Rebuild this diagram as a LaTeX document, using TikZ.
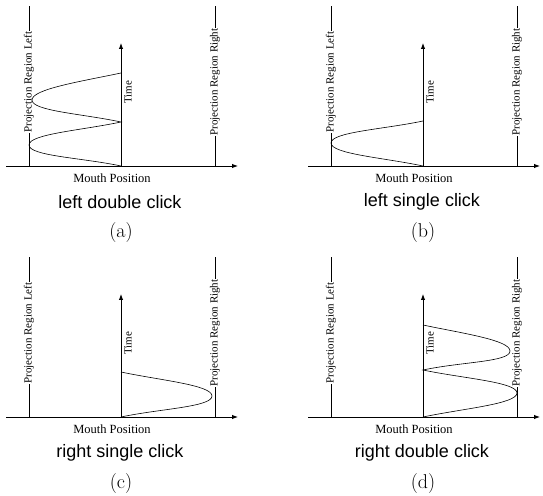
\documentclass[tikz,border=0pt]{standalone}
\usepackage{fontspec}
\usetikzlibrary{arrows.meta}
\newfontfamily\lblfont{Liberation Serif}
\newfontfamily\capfont{Liberation Sans}

\begin{document}
\begin{tikzpicture}[x=1pt, y=1pt, line width=0.9pt,
  axis/.style={-{Latex[length=6pt,width=4.5pt]}},
  wave/.style={line width=0.6pt},
  rlabel/.style={rotate=90, fill=white, inner sep=1pt,
    font=\lblfont\fontsize{11}{11}\selectfont},
  tlabel/.style={rotate=90, anchor=north, inner sep=1pt,
    font=\lblfont\fontsize{11}{11}\selectfont},
  mlabel/.style={inner sep=0pt, font=\lblfont\fontsize{12.5}{12.5}\selectfont},
  caption/.style={inner sep=0pt, font=\capfont\fontsize{18}{18}\selectfont},
  tag/.style={inner sep=0pt, font=\fontsize{20}{20}\selectfont}]

\useasboundingbox (0,0) rectangle (543,495);

% the four frames
\foreach \p/\ox/\oy/\cap in {a/121/329/left double click,
    b/423/329/left single click, c/121/78/right single click,
    d/423/78/right double click}{
  \begin{scope}[shift={(\ox,\oy)}]
    \coordinate (\p-o) at (0,0);
    \coordinate (\p-xs) at (-115,0);
    \coordinate (\p-xe) at (117,0);
    \coordinate (\p-te) at (0,123);
    \coordinate (\p-lb) at (-92,0);
    \coordinate (\p-lt) at (-92,160);
    \coordinate (\p-rb) at (94,0);
    \coordinate (\p-rt) at (94,160);

    \draw[axis] (\p-xs) -- (\p-xe);
    \draw[axis] (\p-o) -- (\p-te);
    \draw (\p-lb) -- (\p-lt);
    \draw (\p-rb) -- (\p-rt);

    \node[rlabel] (\p-left) at (-92,84) {Projection Region Left};
    \node[rlabel] (\p-right) at (94,84) {Projection Region Right};
    \node[tlabel] (\p-time) at (2,74) {Time};
    \node[mlabel] (\p-mouth) at (-9,-12) {Mouth Position};
    \node[caption] (\p-cap) at (-1,-36) {\cap};
    \node[tag] (\p-tag) at (0,-67) {(\p)};
  \end{scope}
}

% (a) two lobes to the left
\begin{scope}[shift={(121,329)}]
  \coordinate (a-t1) at (-92,21);
  \coordinate (a-m) at (0,44);
  \coordinate (a-t2) at (-89,66);
  \coordinate (a-e) at (0,93);
  \draw[wave] (a-o) .. controls +(168:40) and +(0,-11) .. (a-t1)
    .. controls +(0,11) and +(192:40) .. (a-m)
    .. controls +(168:40) and +(0,-11) .. (a-t2)
    .. controls +(0,11) and +(192:40) .. (a-e);
\end{scope}

% (b) one lobe to the left
\begin{scope}[shift={(423,329)}]
  \coordinate (b-t1) at (-92,23);
  \coordinate (b-e) at (0,45);
  \draw[wave] (b-o) .. controls +(168:40) and +(0,-11) .. (b-t1)
    .. controls +(0,11) and +(192:40) .. (b-e);
\end{scope}

% (c) one lobe to the right
\begin{scope}[shift={(121,78)}]
  \coordinate (c-t1) at (91,21);
  \coordinate (c-e) at (0,45);
  \draw[wave] (c-o) .. controls +(12:40) and +(0,-11) .. (c-t1)
    .. controls +(0,11) and +(-12:40) .. (c-e);
\end{scope}

% (d) two lobes to the right
\begin{scope}[shift={(423,78)}]
  \coordinate (d-t1) at (94,24);
  \coordinate (d-m) at (0,47);
  \coordinate (d-t2) at (87,66);
  \coordinate (d-e) at (0,92);
  \draw[wave] (d-o) .. controls +(12:40) and +(0,-11) .. (d-t1)
    .. controls +(0,11) and +(-12:40) .. (d-m)
    .. controls +(12:40) and +(0,-11) .. (d-t2)
    .. controls +(0,11) and +(-12:40) .. (d-e);
\end{scope}

\end{tikzpicture}
\end{document}
